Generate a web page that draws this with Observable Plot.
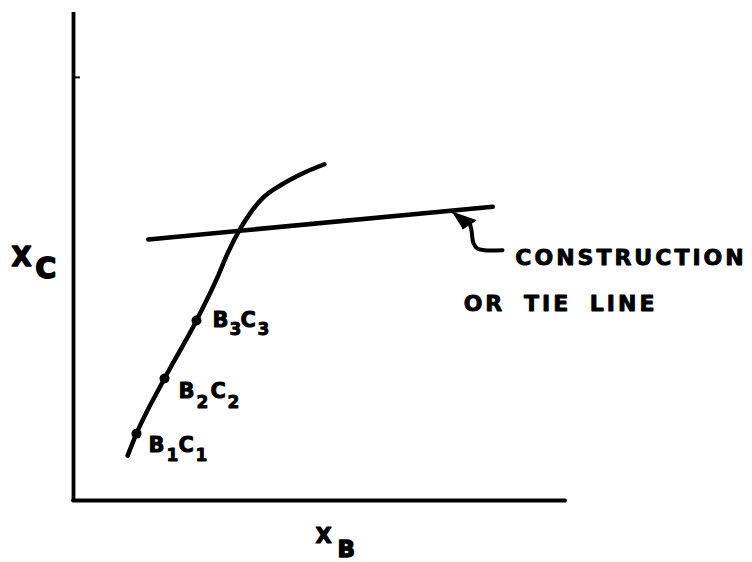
<!DOCTYPE html>
<html>
<head>
<meta charset="utf-8">
<script src="https://cdn.jsdelivr.net/npm/d3@7"></script>
<script src="https://cdn.jsdelivr.net/npm/@observablehq/plot@0.6"></script>
<style>
  body { margin: 0; background: #fff; }
</style>
</head>
<body>
<div id="chart"></div>
<script>
// Equilibrium curve, x_C against x_B (arbitrary units, 0–100 on both axes)
const curveXB = [11, 12.8, 18.5, 25, 29.5, 31.3, 33.9, 36, 38.6, 42.1, 46.1, 51];
const curveXC = [9.2, 13.7, 25, 36.9, 46.3, 50.6, 55.7, 59, 62.1, 64.6, 66.8, 68.9];

// Measured compositions B_iC_i
const pointNames = ["1", "2", "3"];
const pointXB = [12.8, 18.5, 25];
const pointXC = [13.7, 25, 36.9];

// Construction (tie) line end points
const tieXB = [15.2, 85.2];
const tieXC = [53.5, 60.2];

// Callout arrow: filled head, then the hooked shaft running to the label
const arrowHeadXB = [77.0, 81.7, 79.1];
const arrowHeadXC = [59.0, 57.4, 55.7];
const arrowShaftXB = [80.5, 80.9, 81.3, 82.1, 83.5, 87.2];
const arrowShaftXC = [57.0, 55.3, 52.7, 51.6, 51.3, 51.3];

// Callout text and its anchors
const calloutLines = ["CONSTRUCTION", "OR TIE LINE"];
const calloutXB = [89.8, 79.3];
const calloutXC = [48.2, 38.9];

// Small tick on the x_C axis
const axisTicksXC = [86.7];

const curve = curveXB.map((x, i) => ({x, y: curveXC[i]}));
const points = pointNames.map((name, i) => ({name, x: pointXB[i], y: pointXC[i]}));
const tie = tieXB.map((x, i) => ({x, y: tieXC[i]}));
const arrowHead = arrowHeadXB.map((x, i) => ({x, y: arrowHeadXC[i]}));
const arrowShaft = arrowShaftXB.map((x, i) => ({x, y: arrowShaftXC[i]}));
const callout = calloutLines.map((text, i) => ({text, x: calloutXB[i], y: calloutXC[i]}));

const font = "DejaVu Sans, Verdana, sans-serif";
const ink = "#000";
const textStyle = {fontFamily: font, fontWeight: "bold", fill: ink, stroke: ink, strokeWidth: 0.9,
                   textAnchor: "start", lineAnchor: "bottom"};

// Label pieces "B", index, "C", index for each point, offset from its dot
const labelOffsets = [
  {bx: 12, by: 18, sy: 27, sb: 30, cx: 42, sc: 59},
  {bx: 14, by: 19, sy: 29, sb: 32, cx: 46, sc: 63},
  {bx: 16, by: 7,  sy: 15, sb: 33, cx: 44, sc: 61}
];
const labelMarks = points.flatMap((p, i) => {
  const o = labelOffsets[i];
  return [
    Plot.text([p], {...textStyle, x: "x", y: "y", text: () => "B", dx: o.bx, dy: o.by, fontSize: 21}),
    Plot.text([p], {...textStyle, x: "x", y: "y", text: "name", dx: o.sb, dy: o.sy, fontSize: 17}),
    Plot.text([p], {...textStyle, x: "x", y: "y", text: () => "C", dx: o.cx, dy: o.by, fontSize: 21}),
    Plot.text([p], {...textStyle, x: "x", y: "y", text: "name", dx: o.sc, dy: o.sy, fontSize: 17})
  ];
});

const chart = Plot.plot({
  width: 752,
  height: 562,
  marginLeft: 73,
  marginRight: 187,
  marginTop: 12,
  marginBottom: 62,
  x: {domain: [0, 100], axis: null},
  y: {domain: [0, 100], axis: null},
  style: {background: "#fff"},
  marks: [
    // axes
    Plot.ruleX([0], {y1: 0, y2: 100, stroke: ink, strokeWidth: 3.8}),
    Plot.ruleY([0], {x1: 0, x2: 100, stroke: ink, strokeWidth: 3.8, strokeLinecap: "round"}),
    Plot.ruleY(axisTicksXC, {x1: 0, x2: 1.4, stroke: ink, strokeWidth: 2}),

    // equilibrium curve and the tie line
    Plot.line(curve, {x: "x", y: "y", curve: "monotone-x", stroke: ink, strokeWidth: 4.5, strokeLinecap: "round"}),
    Plot.line(tie, {x: "x", y: "y", stroke: ink, strokeWidth: 4.5, strokeLinecap: "round"}),

    // measured points
    Plot.dot(points, {x: "x", y: "y", r: 5, fill: ink}),
    ...labelMarks,

    // callout arrow
    Plot.line(arrowShaft, {x: "x", y: "y", curve: "catmull-rom", stroke: ink, strokeWidth: 4, strokeLinecap: "round"}),
    Plot.line(arrowHead, {x: "x", y: "y", fill: ink, stroke: ink, strokeWidth: 1.5, strokeLinejoin: "round"}),
    Plot.text(callout, {...textStyle, x: "x", y: "y", text: "text", fontSize: 22}),

    // axis titles with subscripts
    Plot.text(["X"], {...textStyle, text: d => d, frameAnchor: "left", dx: -62, dy: 9, fontSize: 26, strokeWidth: 1.4}),
    Plot.text(["C"], {...textStyle, text: d => d, frameAnchor: "left", dx: -38, dy: 21, fontSize: 28, strokeWidth: 2}),
    Plot.text(["X"], {...textStyle, text: d => d, frameAnchor: "bottom", dx: -4, dy: 42, fontSize: 21, strokeWidth: 1.2}),
    Plot.text(["B"], {...textStyle, text: d => d, frameAnchor: "bottom", dx: 18, dy: 56, fontSize: 23, strokeWidth: 1.4})
  ]
});

// widen the callout lettering
chart.querySelectorAll("text").forEach(t => {
  const s = t.textContent;
  if (s === calloutLines[0]) {
    t.setAttribute("letter-spacing", "3");
  } else if (s === calloutLines[1]) {
    t.setAttribute("letter-spacing", "3");
    t.setAttribute("word-spacing", "8");
  }
});

document.getElementById("chart").appendChild(chart);
</script>
</body>
</html>
